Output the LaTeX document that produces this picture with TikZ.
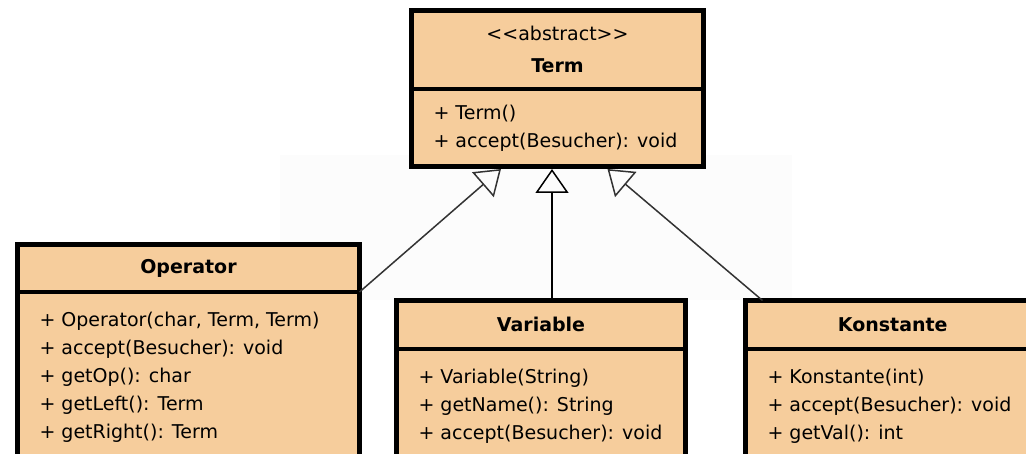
\documentclass[tikz,border=0pt]{standalone}
\usepackage{fontspec}
\setmainfont{DejaVu Sans}
\usetikzlibrary{positioning,calc,arrows.meta}

\definecolor{classfill}{RGB}{246,205,156}

% member list: width, height, lines
\newcommand{\members}[3]{\parbox[c][#2][t]{#1}{\fontsize{19}{28}\selectfont #3}}

\tikzset{
  classhead/.style={fill=classfill, draw, line width=3.3pt, outer sep=0pt, inner sep=0pt,
    align=center, font=\fontsize{19}{32}\selectfont},
  classbody/.style={fill=classfill, draw, line width=3.3pt, outer sep=0pt,
    inner xsep=22pt, inner ysep=20pt, below=0pt of #1},
  classframe/.style={draw, line width=5pt},
  extends/.style={draw=black!80, line width=1.5pt, -{Triangle[open, length=24pt, width=33pt]}}
}

\begin{document}
\begin{tikzpicture}[x=1pt, y=-1pt]
  \useasboundingbox[fill=white] (0,0) rectangle (1026,454);
  \clip (0,0) rectangle (1026,454);
  \fill[black!1.2] (280,155) rectangle (792,300);

  % abstract base class
  \node[classhead, minimum width=292pt, minimum height=78.5pt, anchor=north west] (term) at (411.5,10.5)
    {<\kern0pt<abstract>\kern0pt>\\ \textbf{Term}};
  \node[classbody=term, inner ysep=16.5pt] (termops)
    {\members{248pt}{44.5pt}{+ Term()\\ + accept(Besucher): void}};
  \draw[classframe] (term.north west) rectangle (termops.south east);

  % subclasses
  \node[classhead, minimum width=342pt, minimum height=47.5pt, anchor=north west] (opr) at (17.5,244.5)
    {\textbf{Operator}};
  \node[classbody=opr] (oprops)
    {\members{298pt}{200pt}{+ Operator(char, Term, Term)\\ + accept(Besucher): void\\ + getOp(): char\\
      + getLeft(): Term\\ + getRight(): Term}};
  \draw[classframe] (opr.north west) rectangle (oprops.south east);

  \node[classhead, minimum width=289pt, minimum height=48.5pt, anchor=north west] (var) at (396.5,300.5)
    {\textbf{Variable}};
  \node[classbody=var] (varops)
    {\members{245pt}{150pt}{+ Variable(String)\\ + getName(): String\\ + accept(Besucher): void}};
  \draw[classframe] (var.north west) rectangle (varops.south east);

  \node[classhead, minimum width=294.5pt, minimum height=48.5pt, anchor=north west] (konst) at (745.5,300.5)
    {\textbf{Konstante}};
  \node[classbody=konst] (konstops)
    {\members{250.5pt}{150pt}{+ Konstante(int)\\ + accept(Besucher): void\\ + getVal(): int}};
  \draw[classframe] (konst.north west) rectangle (konstops.south east);

  % generalisations
  \draw[extends] (oprops.north east) -- ($(termops.south)+(-56.5,2.5)$);
  \draw[extends, draw=black] ($(var.north)+(11,0)$) -- ($(termops.south)+(-5.5,2.5)$);
  \draw[extends] ($(konst.north west)+(17,0)$) -- ($(termops.south)+(50,2.5)$);
\end{tikzpicture}
\end{document}
